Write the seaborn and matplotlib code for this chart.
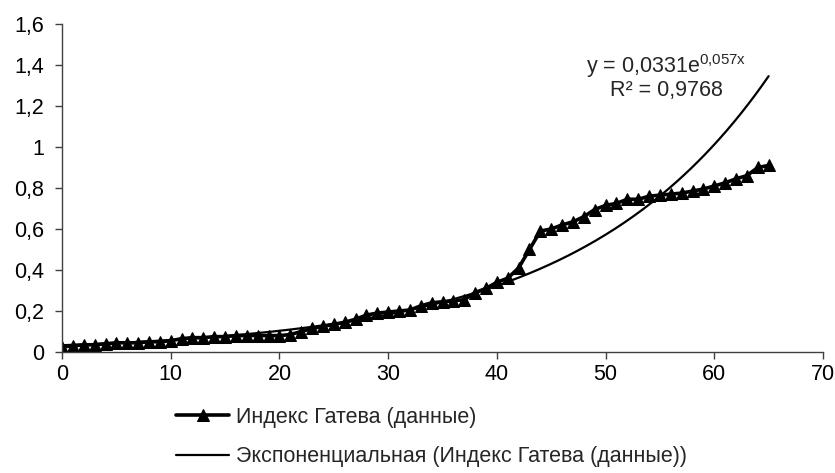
import numpy as np
import pandas as pd
import matplotlib
matplotlib.use("Agg")
import matplotlib.pyplot as plt
from matplotlib.ticker import FuncFormatter
import seaborn as sns

# =========================
# DATA
# =========================
x_vals = list(range(0, 66))
gatev_index = [
    0.025, 0.030, 0.035, 0.035, 0.040, 0.045, 0.045, 0.045, 0.050, 0.050,
    0.055, 0.065, 0.070, 0.070, 0.075, 0.075, 0.080, 0.080, 0.080, 0.080,
    0.080, 0.085, 0.100, 0.115, 0.125, 0.135, 0.145, 0.160, 0.180, 0.190,
    0.195, 0.200, 0.205, 0.225, 0.240, 0.245, 0.250, 0.255, 0.290, 0.310,
    0.340, 0.360, 0.410, 0.500, 0.590, 0.600, 0.620, 0.635, 0.660, 0.695,
    0.715, 0.725, 0.745, 0.745, 0.760, 0.765, 0.770, 0.775, 0.785, 0.795,
    0.810, 0.825, 0.845, 0.860, 0.900, 0.910,
]
trend_a = 0.0331
trend_b = 0.057
trend_label = r"y = 0,0331e$^{\mathregular{0{,}057x}}$" + "\n" + "R² = 0,9768"

series_label = "Индекс Гатева (данные)"
trend_series_label = "Экспоненциальная (Индекс Гатева (данные))"

x_ticks = [0, 10, 20, 30, 40, 50, 60, 70]
y_ticks = [0, 0.2, 0.4, 0.6, 0.8, 1.0, 1.2, 1.4, 1.6]

df = pd.DataFrame({"x": x_vals, "y": gatev_index})
trend_x = np.linspace(min(x_vals), max(x_vals), 300)
trend_df = pd.DataFrame({"x": trend_x, "y": trend_a * np.exp(trend_b * trend_x)})

# =========================
# STYLE
# =========================
sns.set_style("ticks")
plt.rcParams["font.family"] = ["Liberation Sans", "DejaVu Sans"]
plt.rcParams["mathtext.fontset"] = "custom"
plt.rcParams["mathtext.rm"] = "Liberation Sans"

fs = 15.5

fig = plt.figure(figsize=(8.35, 4.73), dpi=100)
ax = fig.add_axes([0.0743, 0.2558, 0.9113, 0.6935])

sns.lineplot(data=df, x="x", y="y", ax=ax, color="black", linewidth=2.6,
             marker="^", markersize=8, markeredgecolor="black",
             label=series_label)
sns.lineplot(data=trend_df, x="x", y="y", ax=ax, color="black", linewidth=1.6,
             label=trend_series_label)

ax.set_xlim(0, 70)
ax.set_ylim(0, 1.6)
ax.set_xticks(x_ticks)
ax.set_yticks(y_ticks)
comma = FuncFormatter(lambda v, p: f"{v:g}".replace(".", ","))
ax.xaxis.set_major_formatter(comma)
ax.yaxis.set_major_formatter(comma)
ax.tick_params(axis="both", labelsize=fs, length=5, width=1, color="#404040",
               labelcolor="black")
ax.tick_params(axis="y", pad=8)
ax.set_xlabel("")
ax.set_ylabel("")
for side in ["top", "right"]:
    ax.spines[side].set_visible(False)
for side in ["left", "bottom"]:
    ax.spines[side].set_color("#404040")
    ax.spines[side].set_linewidth(1)

ax.text(55.6, 1.345, trend_label, ha="center", va="center", fontsize=fs,
        linespacing=1.0)

handles, labels = ax.get_legend_handles_labels()
ax.get_legend().remove()
fig.legend(handles, labels, loc="upper left", bbox_to_anchor=(0.2, 0.158),
           frameon=False, fontsize=fs, handlelength=2.5, handletextpad=0.3,
           labelspacing=0.85, borderaxespad=0)

fig.savefig("out.png", dpi=100)
